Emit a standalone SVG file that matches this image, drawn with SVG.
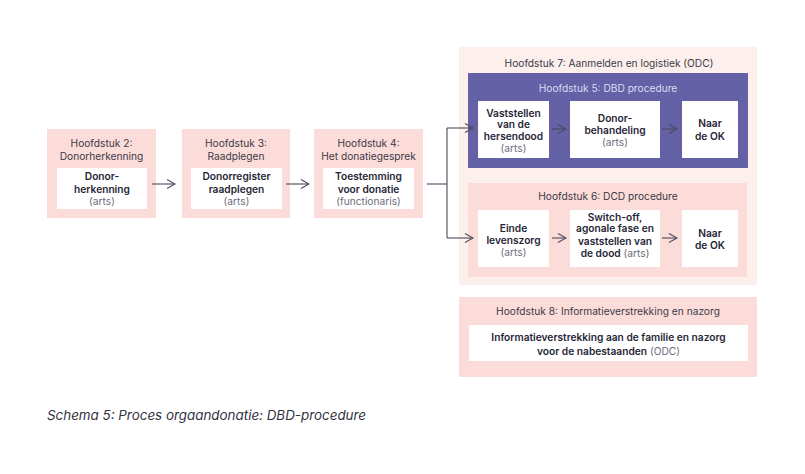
<svg xmlns="http://www.w3.org/2000/svg" width="805" height="474" viewBox="0 0 805 474">
<defs>
<style>
text{font-family:Inter,"Liberation Sans",sans-serif;font-size:10.2px;fill:#272636;text-anchor:middle}
.b{font-weight:600}
.g{fill:#6e6d7a;font-weight:400}
.t{fill:#3b3a4a}
.pt{fill:#dcdbf2}
.pink{fill:#fcdcd8}
.light{fill:#fdefeb}
.purple{fill:#6461a6}
.white{fill:#ffffff}
.cap{font-style:italic;font-size:13.4px;text-anchor:start;fill:#33323f}
.c{fill:none;stroke:#4b4a5c;stroke-width:1.1}
</style>
<marker id="ah" viewBox="0 0 10 10" refX="9" refY="5" markerWidth="10" markerHeight="10" markerUnits="userSpaceOnUse" orient="auto">
<path d="M1,0.5 L9,5 L1,9.5" fill="none" stroke="#4b4a5c" stroke-width="1.1"/>
</marker>
</defs>
<rect width="805" height="474" fill="#ffffff"/>

<g id="ch2">
<rect class="pink" x="47" y="129" width="109" height="89"/>
<rect class="white" x="57" y="168" width="90" height="41"/>
<text class="t" x="101.5" y="147">Hoofdstuk 2:</text>
<text class="t" x="101.5" y="160">Donorherkenning</text>
<text class="b" x="102" y="180">Donor-</text>
<text class="b" x="102" y="193">herkenning</text>
<text class="g" x="102" y="205">(arts)</text>
</g>

<g id="ch3">
<rect class="pink" x="182" y="129" width="108" height="89"/>
<rect class="white" x="191" y="168" width="91" height="41"/>
<text class="t" x="236" y="147">Hoofdstuk 3:</text>
<text class="t" x="236" y="160">Raadplegen</text>
<text class="b" x="236.5" y="180">Donorregister</text>
<text class="b" x="236.5" y="193">raadplegen</text>
<text class="g" x="236.5" y="205">(arts)</text>
</g>

<g id="ch4">
<rect class="pink" x="314" y="129" width="109" height="89"/>
<rect class="white" x="323" y="168" width="91" height="41"/>
<text class="t" x="368.5" y="147">Hoofdstuk 4:</text>
<text class="t" x="368.5" y="160">Het donatiegesprek</text>
<text class="b" x="368.5" y="180">Toestemming</text>
<text class="b" x="368.5" y="193">voor donatie</text>
<text class="g" x="368.5" y="205">(functionaris)</text>
</g>

<g id="ch7">
<rect class="light" x="459" y="47" width="298" height="238"/>
<text class="t" x="609" y="67">Hoofdstuk 7: Aanmelden en logistiek (ODC)</text>
</g>

<g id="ch5">
<rect class="purple" x="468" y="73" width="280" height="95"/>
<text class="pt" x="608" y="92">Hoofdstuk 5: DBD procedure</text>
</g>
<g id="dbd-vaststellen">
<rect class="white" x="478" y="101" width="71" height="57"/>
<text class="b" x="513.5" y="116.5">Vaststellen</text>
<text class="b" x="513.5" y="128">van de</text>
<text class="b" x="513.5" y="140">hersendood</text>
<text class="g" x="513.5" y="151.5">(arts)</text>
</g>
<g id="dbd-behandeling">
<rect class="white" x="570" y="101" width="90" height="57"/>
<text class="b" x="615" y="121.5">Donor-</text>
<text class="b" x="615" y="134">behandeling</text>
<text class="g" x="615" y="145.5">(arts)</text>
</g>
<g id="dbd-ok">
<rect class="white" x="682" y="101" width="56" height="57"/>
<text class="b" x="710" y="126.5">Naar</text>
<text class="b" x="710" y="139.5">de OK</text>
</g>

<g id="ch6">
<rect class="pink" x="468" y="183" width="279" height="94"/>
<text class="t" x="608" y="199.5">Hoofdstuk 6: DCD procedure</text>
</g>
<g id="dcd-einde">
<rect class="white" x="478" y="210" width="71" height="57"/>
<text class="b" x="513.5" y="231.5">Einde</text>
<text class="b" x="513.5" y="243.5">levenszorg</text>
<text class="g" x="513.5" y="255.5">(arts)</text>
</g>
<g id="dcd-switchoff">
<rect class="white" x="570" y="210" width="90" height="57"/>
<text class="b" x="615" y="220.5">Switch-off,</text>
<text class="b" x="615" y="232">agonale fase en</text>
<text class="b" x="615" y="244.5">vaststellen van</text>
<text x="615" y="256.5"><tspan class="b">de dood</tspan><tspan class="g"> (arts)</tspan></text>
</g>
<g id="dcd-ok">
<rect class="white" x="682" y="210" width="56" height="57"/>
<text class="b" x="710" y="236.5">Naar</text>
<text class="b" x="710" y="248.5">de OK</text>
</g>

<g id="ch8">
<rect class="pink" x="459" y="297" width="298" height="80"/>
<text class="t" x="608" y="314.5">Hoofdstuk 8: Informatieverstrekking en nazorg</text>
<rect class="white" x="469" y="325" width="279" height="36"/>
<text class="b" x="608.5" y="340.5">Informatieverstrekking aan de familie en nazorg</text>
<text x="608.5" y="354.5"><tspan class="b">voor de nabestaanden</tspan><tspan class="g"> (ODC)</tspan></text>
</g>

<g id="connectors">
<line class="c" x1="152" y1="184" x2="175" y2="184" marker-end="url(#ah)"/>
<line class="c" x1="286" y1="184" x2="309" y2="184" marker-end="url(#ah)"/>
<polyline class="c" points="427,184 447,184"/>
<polyline class="c" points="447,128 447,238"/>
<line class="c" x1="447" y1="128" x2="473" y2="128" marker-end="url(#ah)"/>
<line class="c" x1="447" y1="238" x2="473" y2="238" marker-end="url(#ah)"/>
<line class="c" x1="552" y1="129" x2="566" y2="129" marker-end="url(#ah)"/>
<line class="c" x1="662" y1="129" x2="677" y2="129" marker-end="url(#ah)"/>
<line class="c" x1="552" y1="238" x2="566" y2="238" marker-end="url(#ah)"/>
<line class="c" x1="662" y1="238" x2="677" y2="238" marker-end="url(#ah)"/>
</g>

<text class="cap" x="47" y="420">Schema 5: Proces orgaandonatie: DBD-procedure</text>
</svg>
